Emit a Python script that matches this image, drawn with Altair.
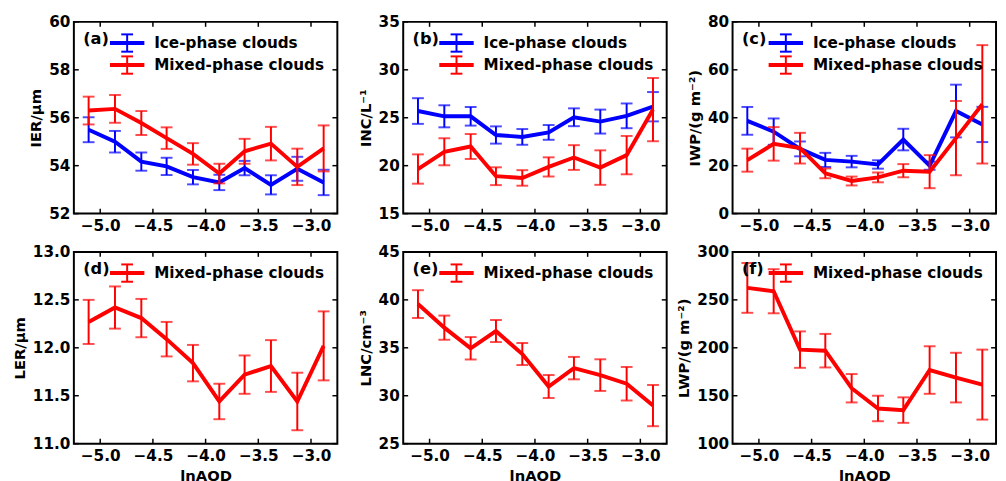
import altair as alt
import pandas as pd

# ---------------- data ----------------
x_aod = [-5.11, -4.86, -4.61, -4.37, -4.12, -3.87, -3.63, -3.38, -3.13, -2.88]
x_ticks = [-5.0, -4.5, -4.0, -3.5, -3.0]

ier_ice = [55.5, 55.0, 54.17, 53.97, 53.52, 53.3, 53.9, 53.2, 53.87, 53.3]
ier_ice_err = [0.52, 0.45, 0.38, 0.36, 0.3, 0.32, 0.3, 0.4, 0.5, 0.53]
ier_mix = [56.3, 56.37, 55.78, 55.15, 54.49, 53.67, 54.6, 54.92, 53.95, 54.72]
ier_mix_err = [0.58, 0.58, 0.5, 0.45, 0.45, 0.41, 0.52, 0.7, 0.76, 0.96]

inc_ice = [25.7, 25.15, 25.15, 23.2, 23.0, 23.47, 25.05, 24.6, 25.2, 26.15]
inc_ice_err = [1.34, 1.15, 0.97, 0.9, 0.82, 0.77, 0.93, 1.25, 1.29, 1.53]
inc_mix = [19.65, 21.45, 22.0, 18.9, 18.72, 19.87, 20.85, 19.8, 21.1, 25.85]
inc_mix_err = [1.53, 1.41, 1.3, 0.93, 0.81, 1.0, 1.29, 1.8, 2.0, 3.3]

iwp_ice = [38.7, 34.2, 27.0, 22.4, 21.7, 20.5, 30.9, 20.0, 42.8, 37.2]
iwp_ice_err = [5.8, 5.5, 3.1, 2.95, 2.4, 1.75, 4.5, 1.7, 11.0, 7.35]
iwp_mix = [22.3, 29.1, 27.3, 16.8, 13.6, 15.1, 17.9, 17.5, 31.5, 45.6]
iwp_mix_err = [4.8, 7.0, 6.4, 2.05, 1.85, 2.05, 2.75, 6.9, 15.5, 24.7]

ler_mix = [12.27, 12.42, 12.31, 12.09, 11.84, 11.44, 11.72, 11.81, 11.44, 12.02]
ler_mix_err = [0.23, 0.22, 0.2, 0.18, 0.19, 0.185, 0.2, 0.27, 0.3, 0.36]

lnc_mix = [39.56, 37.1, 34.95, 36.75, 34.35, 30.96, 32.88, 32.15, 31.25, 28.97]
lnc_mix_err = [1.45, 1.26, 1.17, 1.15, 1.15, 1.2, 1.17, 1.65, 1.75, 2.15]

lwp_mix = [262.5, 259.0, 198.1, 197.0, 157.8, 136.7, 135.0, 176.8, 168.9, 161.6]
lwp_mix_err = [26.0, 23.0, 19.0, 17.5, 14.8, 13.3, 13.3, 24.8, 25.9, 36.5]

labels = ["Ice-phase clouds", "Mixed-phase clouds"]
colors = ["#0000ff", "#ff0000"]

# ---------------- styling ----------------
W, H = 268, 195
FONT = "DejaVu Sans"
X_DOMAIN = [-5.25, -2.75]


def one_row():
    return pd.DataFrame({"k": [0]})


def panel(tag, ytitle, ydomain, yticks, yfmt, series, bottom):
    xs = alt.Scale(domain=X_DOMAIN, nice=False, zero=False, padding=0)
    ys = alt.Scale(domain=ydomain, nice=False, zero=False, padding=0)
    xax = alt.Axis(values=x_ticks, format=".1f", title="lnAOD" if bottom else None)
    yax = alt.Axis(values=yticks, format=yfmt, title=ytitle)
    X = lambda f: alt.X(f, scale=xs, axis=xax)
    Y = lambda f: alt.Y(f, scale=ys, axis=yax)
    layers = []
    for label, color, vals, errs in series:
        df = pd.DataFrame({
            "x": x_aod,
            "y": vals,
            "lo": [v - e for v, e in zip(vals, errs)],
            "hi": [v + e for v, e in zip(vals, errs)],
        })
        base = alt.Chart(df)
        layers.append(base.mark_line(color=color, strokeWidth=4).encode(
            x=X("x:Q"), y=Y("y:Q")))
        layers.append(base.mark_rule(color=color, strokeWidth=2).encode(
            x=X("x:Q"), y=Y("lo:Q"), y2="hi:Q"))
        for f in ["lo", "hi"]:
            layers.append(base.mark_tick(color=color, orient="horizontal", size=12,
                                         thickness=2).encode(
                x=X("x:Q"), y=Y(f + ":Q")))

    # inward ticks on all four sides
    yt = alt.Chart(pd.DataFrame({"y": yticks}))
    xt = alt.Chart(pd.DataFrame({"x": x_ticks}))
    layers.append(yt.mark_rule(color="black", strokeWidth=1.5).encode(
        y=Y("y:Q"), x=alt.value(0), x2=alt.value(5)))
    layers.append(yt.mark_rule(color="black", strokeWidth=1.5).encode(
        y=Y("y:Q"), x=alt.value(W - 5), x2=alt.value(W)))
    layers.append(xt.mark_rule(color="black", strokeWidth=1.5).encode(
        x=X("x:Q"), y=alt.value(0), y2=alt.value(5)))
    layers.append(xt.mark_rule(color="black", strokeWidth=1.5).encode(
        x=X("x:Q"), y=alt.value(H - 5), y2=alt.value(H)))

    # panel tag
    layers.append(alt.Chart(one_row()).mark_text(
        text=tag, align="left", baseline="middle", font=FONT, fontWeight="bold",
        fontSize=16.5, color="black").encode(x=alt.value(9.5), y=alt.value(17)))

    # legend drawn as in matplotlib (line + errorbar symbol)
    for i, (label, color, vals, errs) in enumerate(series):
        ly = 21.5 + 22.4 * i
        r = alt.Chart(one_row())
        layers.append(r.mark_rule(color=color, strokeWidth=4).encode(
            x=alt.value(36.7), x2=alt.value(71.7), y=alt.value(ly)))
        layers.append(r.mark_rule(color=color, strokeWidth=2).encode(
            x=alt.value(54.2), y=alt.value(ly - 8.8), y2=alt.value(ly + 8.8)))
        for dy in (-8.8, 8.8):
            layers.append(r.mark_rule(color=color, strokeWidth=2).encode(
                x=alt.value(48.2), x2=alt.value(60.2), y=alt.value(ly + dy)))
        layers.append(r.mark_text(
            text=label, align="left", baseline="middle", font=FONT,
            fontWeight="bold", fontSize=15.5, color="black").encode(
            x=alt.value(81.7), y=alt.value(ly)))

    return alt.layer(*layers).properties(width=W, height=H)


ice = (labels[0], colors[0])
mix = (labels[1], colors[1])

pa = panel("(a)", "IER/μm", [52, 60], [52, 54, 56, 58, 60], "d",
           [ice + (ier_ice, ier_ice_err), mix + (ier_mix, ier_mix_err)], False)
pb = panel("(b)", "INC/L⁻¹", [15, 35], [15, 20, 25, 30, 35], "d",
           [ice + (inc_ice, inc_ice_err), mix + (inc_mix, inc_mix_err)], False)
pc = panel("(c)", "IWP/(g m⁻²)", [0, 80], [0, 20, 40, 60, 80], "d",
           [ice + (iwp_ice, iwp_ice_err), mix + (iwp_mix, iwp_mix_err)], False)
pd_ = panel("(d)", "LER/μm", [11, 13], [11.0, 11.5, 12.0, 12.5, 13.0], ".1f",
            [mix + (ler_mix, ler_mix_err)], True)
pe = panel("(e)", "LNC/cm⁻³", [25, 45], [25, 30, 35, 40, 45], "d",
           [mix + (lnc_mix, lnc_mix_err)], True)
pf = panel("(f)", "LWP/(g m⁻²)", [100, 300], [100, 150, 200, 250, 300], "d",
           [mix + (lwp_mix, lwp_mix_err)], True)

chart = alt.concat(pa, pb, pc, pd_, pe, pf, columns=3, bounds="flush",
                   spacing={"row": 39, "column": 67}).properties(
    padding={"left": 3, "top": 2, "right": 0, "bottom": 0}
).configure_view(
    stroke="black", strokeWidth=2
).configure_axis(
    domain=False, ticks=False, tickSize=0, grid=False,
    labelFont=FONT, labelFontWeight="bold", labelFontSize=15.5, labelColor="black",
    labelPadding=4,
    titleFont=FONT, titleFontWeight="bold", titleFontSize=15, titleColor="black",
    titlePadding=5,
).configure_axisX(labelPadding=5, titlePadding=5)

chart.save("out.html", embed_options={"renderer": "svg", "actions": False})
